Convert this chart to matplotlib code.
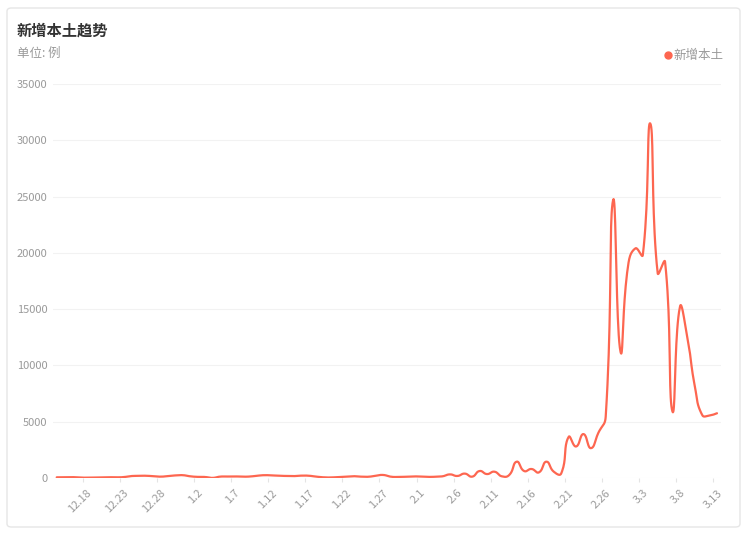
import numpy as np
import matplotlib
matplotlib.use("Agg")
import matplotlib.pyplot as plt
from matplotlib.patches import FancyBboxPatch
from matplotlib.lines import Line2D

plt.rcParams['font.family'] = ['Noto Sans CJK SC', 'DejaVu Sans']

# 每日新增本土 (12.14 - 3.13)
dates = ['12.14', '12.15', '12.16', '12.17', '12.18', '12.19', '12.20', '12.21', '12.22', '12.23',
         '12.24', '12.25', '12.26', '12.27', '12.28', '12.29', '12.30', '12.31', '1.1', '1.2',
         '1.3', '1.4', '1.5', '1.6', '1.7', '1.8', '1.9', '1.10', '1.11', '1.12',
         '1.13', '1.14', '1.15', '1.16', '1.17', '1.18', '1.19', '1.20', '1.21', '1.22',
         '1.23', '1.24', '1.25', '1.26', '1.27', '1.28', '1.29', '1.30', '1.31', '2.1',
         '2.2', '2.3', '2.4', '2.5', '2.6', '2.7', '2.8', '2.9', '2.10', '2.11',
         '2.12', '2.13', '2.14', '2.15', '2.16', '2.17', '2.18', '2.19', '2.20', '2.21',
         '2.22', '2.23', '2.24', '2.25', '2.26', '2.27', '2.28', '3.1', '3.2', '3.3',
         '3.4', '3.5', '3.6', '3.7', '3.8', '3.9', '3.10', '3.11', '3.12', '3.13']
cases = [60, 70, 80, 40, 30, 40, 60, 70, 60, 80,
         170, 190, 200, 160, 120, 170, 230, 250, 150, 100,
         90, 10, 120, 130, 140, 120, 130, 200, 250, 230,
         200, 180, 170, 210, 200, 120, 60, 50, 90, 130,
         160, 120, 110, 200, 270, 120, 90, 110, 140, 130,
         100, 110, 150, 320, 180, 390, 120, 620, 350, 560,
         150, 270, 1450, 620, 800, 500, 1450, 560, 400, 3650,
         2800, 3900, 2650, 4000, 5450, 24700, 11200, 18800, 20400, 19800,
         31500, 18200, 19200, 5900, 15200, 12500, 8200, 5600, 5550, 5750]
label_dates = ['12.18', '12.23', '12.28', '1.2', '1.7', '1.12', '1.17', '1.22', '1.27', '2.1',
               '2.6', '2.11', '2.16', '2.21', '2.26', '3.3', '3.8', '3.13']
y_ticks = [0, 5000, 10000, 15000, 20000, 25000, 30000, 35000]

line_color = '#fd6650'
gray = '#9a9a9a'


def smooth_curve(xs, ys, sx, sy, smooth=0.5, steps=20):
    # echarts 风格的贝塞尔平滑 (按像素长度比例)
    px = np.asarray(xs, float) * sx
    py = np.asarray(ys, float) * sy
    n = len(px)
    cps = []
    for i in range(n):
        p0 = max(i - 1, 0)
        p2 = min(i + 1, n - 1)
        vx, vy = px[p2] - px[p0], py[p2] - py[p0]
        d0 = np.hypot(px[i] - px[p0], py[i] - py[p0])
        d1 = np.hypot(px[p2] - px[i], py[p2] - py[i])
        r = d1 / (d0 + d1) if d0 + d1 > 0 else 0.5
        cin = (px[i] - vx * smooth * (1 - r), py[i] - vy * smooth * (1 - r))
        cout = (px[i] + vx * smooth * r, py[i] + vy * smooth * r)
        cps.append((cin, cout))
    out_x, out_y = [px[0]], [py[0]]
    t = np.linspace(0, 1, steps + 1)[1:]
    for i in range(n - 1):
        a = np.array([px[i], py[i]])
        b = np.array(cps[i][1])
        c = np.array(cps[i + 1][0])
        d = np.array([px[i + 1], py[i + 1]])
        pts = ((1 - t) ** 3)[:, None] * a + (3 * (1 - t) ** 2 * t)[:, None] * b \
            + (3 * (1 - t) * t ** 2)[:, None] * c + (t ** 3)[:, None] * d
        out_x.extend(pts[:, 0])
        out_y.extend(pts[:, 1])
    return np.array(out_x) / sx, np.array(out_y) / sy


fig = plt.figure(figsize=(7.5, 5.35), dpi=100)
fig.patch.set_facecolor('white')

# 卡片边框
card = FancyBboxPatch((7 / 750, 8 / 535), 733 / 750, 519 / 535,
                      boxstyle='round,pad=0,rounding_size=0.006',
                      transform=fig.transFigure, facecolor='none',
                      edgecolor='#e6e6e6', linewidth=1.0, zorder=-5)
fig.patches.append(card)

fig.text(17 / 750, 1 - 31 / 535, '新增本土趋势', fontsize=11, fontweight='bold',
         color='#333333', va='center', ha='left')
fig.text(17 / 750, 1 - 53 / 535, '单位: 例', fontsize=9, color=gray, va='center', ha='left')

# 图例
fig.text(723 / 750, 1 - 55 / 535, '新增本土', fontsize=9, color=gray, va='center', ha='right')
fig.add_artist(Line2D([668 / 750], [1 - 55 / 535], transform=fig.transFigure, marker='o',
                      markersize=5, color=line_color, linestyle='none'))

ax = fig.add_axes([53 / 750, 57 / 535, 667.7 / 750, 394 / 535])
ax.patch.set_alpha(0)

x = np.arange(len(cases))
sx = 667.7 / 90
sy = 394 / 35000
cx, cy = smooth_curve(x, cases, sx, sy)
ax.plot(cx, cy, color=line_color, linewidth=1.6, solid_capstyle='round', zorder=3)

ax.set_xlim(-0.5, len(cases) - 0.5)
ax.set_ylim(0, 35000)
ax.set_yticks(y_ticks)
ax.set_yticklabels([str(v) for v in y_ticks])
ax.grid(axis='y', color='#f2f2f2', linewidth=0.8)
ax.set_axisbelow(True)

label_pos = [dates.index(d) for d in label_dates]
ax.set_xticks(label_pos)
ax.set_xticklabels(label_dates, rotation=45, ha='right', rotation_mode='anchor')
ax.set_xticks([p - 0.5 for p in label_pos], minor=True)
ax.tick_params(axis='x', which='major', length=0, pad=7, labelsize=8, labelcolor=gray)
ax.tick_params(axis='x', which='minor', length=3, color='#e4e4e4', width=0.8)
ax.tick_params(axis='y', length=0, pad=4, labelsize=8, labelcolor=gray)

for s in ax.spines.values():
    s.set_visible(False)

fig.savefig('out.png', dpi=100, facecolor='white')
